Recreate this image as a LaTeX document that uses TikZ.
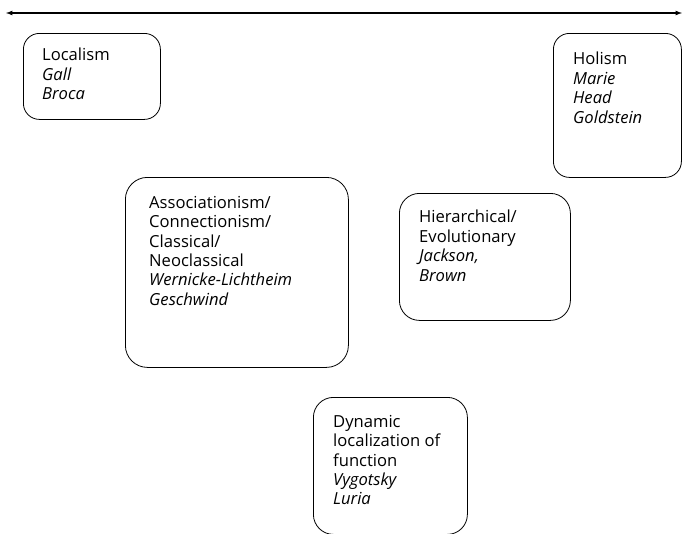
\documentclass[tikz,border=0pt]{standalone}
\usepackage{fontspec}
\setmainfont{Open Sans}
\usetikzlibrary{arrows, positioning}

\begin{document}
\begin{tikzpicture}[x=1pt, y=-1pt]
		\tikzstyle{Box} = [rectangle, rounded corners=16pt, anchor=north west, draw=black, line width=0.8pt, fill=white]
		\tikzstyle{Label} = [inner sep=0pt, align=left, font=\fontsize{16.6}{19.4}\selectfont]
		\tikzstyle{arrow} = [line width=1.2pt,<->,>=latex]
		
		\useasboundingbox (0,0) rectangle (682,533);
		
		%\draw[step=50,gray,very thin] (0,0) grid (682,533);
		
		\coordinate (left) at (6,13);
		\coordinate (right) at (682,13);
		\draw[arrow] (left) -- (right);
		
		\node (loc) [Box, minimum width=137pt, minimum height=86pt] at (23,33) {};
		\node (hol) [Box, minimum width=128pt, minimum height=144pt] at (553,33) {};
		\node (assoc) [Box, rounded corners=22pt, minimum width=223pt, minimum height=190pt] at (125,177) {};
		\node (hier) [Box, rounded corners=20pt, minimum width=171pt, minimum height=127pt] at (399,193) {};
		\node (dyn) [Box, rounded corners=20pt, minimum width=154pt, minimum height=137pt] at (313,397) {};
		
		\node (loctext) [Label, below right=15pt and 19pt of loc.north west] {Localism\\ \textit{Gall}\\ \textit{Broca}};
		\node (holtext) [Label, below right=19pt and 20pt of hol.north west] {Holism\\ \textit{Marie}\\ \textit{Head}\\ \textit{Goldstein}};
		\node (assoctext) [Label, below right=19pt and 24pt of assoc.north west] {Associationism/\\ Connectionism/\\ Classical/\\ Neoclassical\\ \textit{Wernicke-Lichtheim}\\ \textit{Geschwind}};
		\node (hiertext) [Label, below right=17pt and 20pt of hier.north west] {Hierarchical/\\ Evolutionary\\ \textit{Jackson,}\\ \textit{Brown}};
		\node (dyntext) [Label, below right=18pt and 20pt of dyn.north west] {Dynamic\\ localization of\\ function\\ \textit{Vygotsky}\\ \textit{Luria}};
\end{tikzpicture}
\end{document}
